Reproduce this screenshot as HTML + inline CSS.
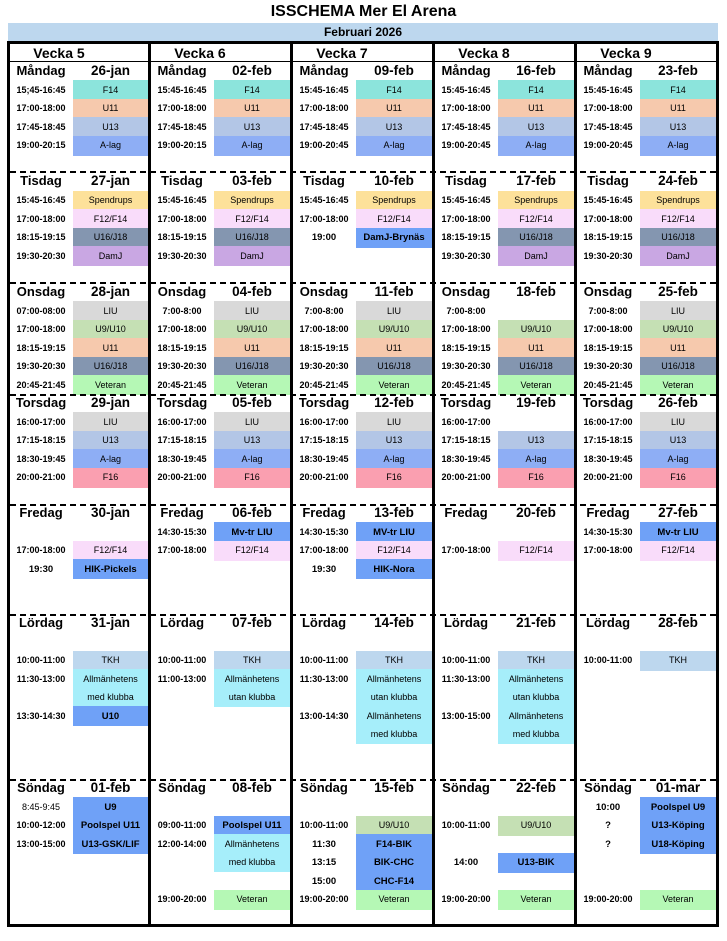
<!DOCTYPE html>
<html><head><meta charset="utf-8"><style>
body{margin:0;width:727px;height:941px;background:#fff;position:relative;overflow:hidden;font-family:"Liberation Sans",Arial,sans-serif;}
div{position:absolute;box-sizing:border-box;}
.t{text-align:center;white-space:nowrap;}
</style></head><body>
<div class="t" style="left:0;width:727px;top:2px;font-size:16px;font-weight:bold;line-height:20px">ISSCHEMA Mer El Arena</div>
<div class="t" style="left:8px;width:710px;top:23px;height:18px;background:#bdd7ee;font-size:12px;font-weight:bold;line-height:18px">Februari 2026</div>
<div id="g"></div>
<script>
var C={F14:'#8ce4dc',U11:'#f6c9ad',U13:'#b3c6e6',Alag:'#8eaef5',Sp:'#fde19a',F12:'#f9dcfa',U16:'#8496b0',DamJ:'#c9a7e3',LIU:'#d9d9d9',U9:'#c5e0b4',Vet:'#b5f8b5',F16:'#fa9fb0',B:'#6fa1f7',TKH:'#bdd7ee',All:'#a6eefa'};
var h='';
function box(x,y,w,hh,st){h+='<div style="left:'+x+'px;top:'+y+'px;width:'+w+'px;height:'+hh+'px;'+(st||'')+'"></div>';}
function txt(cx,y,s,st){h+='<div class="t" style="left:'+(cx-60)+'px;width:120px;top:'+y+'px;'+st+'">'+s+'</div>';}
var cs=[10,151,293,435,577];var bx=[7,148,290,432,574,716];
var days=[['Måndag',71,80],['Tisdag',181,190.5],['Onsdag',292,301],['Torsdag',403,412],['Fredag',513,522],['Lördag',623,632],['Söndag',788,797]];
var seps=[171,282,394,504,614,779];
var dates=[['26-jan','27-jan','28-jan','29-jan','30-jan','31-jan','01-feb'],['02-feb','03-feb','04-feb','05-feb','06-feb','07-feb','08-feb'],['09-feb','10-feb','11-feb','12-feb','13-feb','14-feb','15-feb'],['16-feb','17-feb','18-feb','19-feb','20-feb','21-feb','22-feb'],['23-feb','24-feb','25-feb','26-feb','27-feb','28-feb','01-mar']];
var M=[['15:45-16:45','F14','F14'],['17:00-18:00','U11','U11'],['17:45-18:45','U13','U13']];
var T=[['15:45-16:45','Spendrups','Sp'],['17:00-18:00','F12/F14','F12'],['18:15-19:15','U16/J18','U16'],['19:30-20:30','DamJ','DamJ']];
function on(a){return [[a,'LIU','LIU'],['17:00-18:00','U9/U10','U9'],['18:15-19:15','U11','U11'],['19:30-20:30','U16/J18','U16'],['20:45-21:45','Veteran','Vet']];}
var TO=[['16:00-17:00','LIU','LIU'],['17:15-18:15','U13','U13'],['18:30-19:45','A-lag','Alag'],['20:00-21:00','F16','F16']];
var al1=['Allmänhetens','utan klubba'],al2=['Allmänhetens','med klubba'];
var D=[];
for(var c=0;c<5;c++){D.push([]);}
function mk(list){return list.map(function(e,i){return [i,e[0],e[1],e[2]];});}
for(c=0;c<5;c++){
 var m=M.concat([[c<2?'19:00-20:15':'19:00-20:45','A-lag','Alag']]);
 D[c][0]=mk(m);
 D[c][1]=mk(T);
 D[c][2]=mk(on(c==0?'07:00-08:00':'7:00-8:00'));
 D[c][3]=mk(TO);
}
D[0][0][0][1]='15;45-16:45';
D[2][1]=[[0,'15:45-16:45','Spendrups','Sp'],[1,'17:00-18:00','F12/F14','F12'],[2,'19:00','DamJ-Brynäs','B',1]];
D[3][2][0][3]=null;D[3][2][0][2]='';
D[3][3][0][3]=null;D[3][3][0][2]='';
D[0][4]=[[1,'17:00-18:00','F12/F14','F12'],[2,'19:30','HIK-Pickels','B',1]];
D[1][4]=[[0,'14:30-15:30','Mv-tr LIU','B',1,1,12],[1,'17:00-18:00','F12/F14','F12']];
D[2][4]=[[0,'14:30-15:30','MV-tr LIU','B',1],[1,'17:00-18:00','F12/F14','F12'],[2,'19:30','HIK-Nora','B',1]];
D[3][4]=[[1,'17:00-18:00','F12/F14','F12']];
D[4][4]=[[0,'14:30-15:30','Mv-tr LIU','B',1],[1,'17:00-18:00','F12/F14','F12']];
D[0][5]=[[1,'10:00-11:00','TKH','TKH'],[2,'11:30-13:00',al2,'All',0,2],[4,'13:30-14:30','U10','B',1]];
D[1][5]=[[1,'10:00-11:00','TKH','TKH'],[2,'11:00-13:00',al1,'All',0,2]];
D[2][5]=[[1,'10:00-11:00','TKH','TKH'],[2,'11:30-13:00',al1,'All',0,2],[4,'13:00-14:30',al2,'All',0,2]];
D[3][5]=[[1,'10:00-11:00','TKH','TKH'],[2,'11:30-13:00',al1,'All',0,2],[4,'13:00-15:00',al2,'All',0,2]];
D[4][5]=[[1,'10:00-11:00','TKH','TKH']];
D[0][6]=[[0,'8:45-9:45','U9','B',1,1,'n'],[1,'10:00-12:00','Poolspel U11','B',1],[2,'13:00-15:00','U13-GSK/LIF','B',1]];
D[1][6]=[[1,'09:00-11:00','Poolspel U11','B',1],[2,'12:00-14:00',al2,'All',0,2],[5,'19:00-20:00','Veteran','Vet']];
D[2][6]=[[1,'10:00-11:00','U9/U10','U9'],[2,'11:30','F14-BIK','B',1],[3,'13:15','BIK-CHC','B',1],[4,'15:00','CHC-F14','B',1],[5,'19:00-20:00','Veteran','Vet']];
D[3][6]=[[1,'10:00-11:00','U9/U10','U9'],[3,'14:00','U13-BIK','B',1],[5,'19:00-20:00','Veteran','Vet']];
D[4][6]=[[0,'10:00','Poolspel U9','B',1],[1,'?','U13-Köping','B',1],[2,'?','U18-Köping','B',1],[5,'19:00-20:00','Veteran','Vet']];
var S=18.5;
for(c=0;c<5;c++){
 var x0=cs[c],cl=x0+63,cw=bx[c+1]-cl;
 txt(x0+49,45,'Vecka '+(c+5),'font-size:14px;font-weight:bold;line-height:16px');
 for(var d=0;d<7;d++){
  var dd=days[d];
  txt(x0+31,dd[1]-8,dd[0],'font-size:13px;font-weight:bold;line-height:16px');
  txt(cl+cw/2,dd[1]-8,dates[c][d],'font-size:13.5px;font-weight:bold;line-height:16px');
  (D[c][d]||[]).forEach(function(e){
   var sp=e[5]||1,y=dd[2]+e[0]*S;
   if(e[3]) box(cl,Math.round(y),cw,Math.round(sp*S)+1,'background:'+C[e[3]]);
   txt(x0+31,y+4.5,e[1],'font-size:'+(e[1].length<=5?9.5:9)+'px;font-weight:'+(e[6]=='n'?'normal':'bold')+';line-height:11px');
   var labs=Array.isArray(e[2])?e[2]:[e[2]];
   labs.forEach(function(l,i){txt(cl+cw/2,y+i*S+4.5,l,'font-size:'+(e[4]?9.5:9)+'px;font-weight:'+(e[4]?'bold':'normal')+';line-height:11px');});
  });
 }
}
seps.forEach(function(y){box(10,y,706,2,'background:repeating-linear-gradient(90deg,#000 0 6px,transparent 6px 10px)');});
box(10,61,706,1,'background:#000');
box(7,41,712,3,'background:#000');
box(7,924,712,3,'background:#000');
bx.forEach(function(x){box(x,41,3,886,'background:#000');});
document.getElementById('g').innerHTML=h;
</script>
</body></html>
